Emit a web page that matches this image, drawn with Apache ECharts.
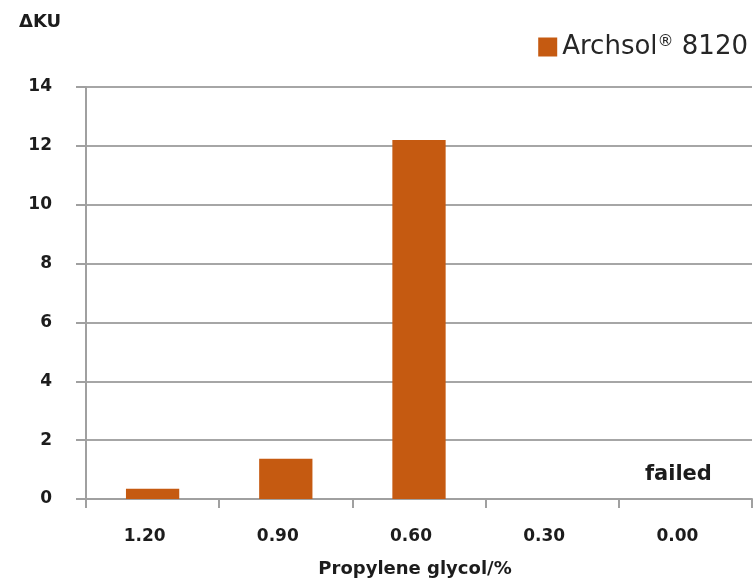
<!DOCTYPE html>
<html><head><meta charset="utf-8">
<script src="https://cdn.jsdelivr.net/npm/echarts@6/dist/echarts.min.js"></script>
<style>html,body{margin:0;padding:0;background:#fff}#c{width:755px;height:584px}</style>
</head><body><div id="c"></div>
<script>
const categories = ['1.20', '0.90', '0.60', '0.30', '0.00'];
const values = [0.35, 1.37, 12.2, null, 0];
const failedIndex = 4;
const yTicks = { min: 0, max: 14, interval: 2 };
const seriesName = 'Archsol® 8120';
const xTitle = 'Propylene glycol/%';
const yTitle = 'ΔKU';

const font = '"DejaVu Sans", sans-serif';
const dark = '#1c1c1c';
const chart = echarts.init(document.getElementById('c'));
chart.setOption({
  animation: false,
  textStyle: { fontFamily: font },
  title: { text: yTitle, left: 14, top: 8, textStyle: { fontSize: 18, fontWeight: 'bold', color: dark, fontFamily: font } },
  legend: { right: 2, top: 29, itemWidth: 19, itemHeight: 19, itemGap: 9, icon: 'rect',
    formatter: name => name.replace('®', '{sup|®}'),
    textStyle: { fontSize: 26, color: '#262626', fontFamily: font,
      rich: { sup: { fontSize: 16, color: '#262626', verticalAlign: 'top', padding: [0, 0, 10, 0] } } } },
  grid: { left: 86, right: 3, top: 87, bottom: 85, outerBoundsMode: 'none', containLabel: false },
  xAxis: {
    type: 'category', data: categories,
    name: xTitle, nameLocation: 'middle', nameGap: 61,
    nameTextStyle: { fontSize: 18, fontWeight: 'bold', color: dark, padding: [0, 8, 0, 0] },
    axisLine: { lineStyle: { color: '#a0a0a0', width: 2 } },
    axisTick: { show: true, length: 9, lineStyle: { color: '#a0a0a0', width: 2 } },
    axisLabel: { fontSize: 17, fontWeight: 'bold', color: dark, margin: 29, padding: [0, 16, 0, 0] }
  },
  yAxis: {
    type: 'value', min: yTicks.min, max: yTicks.max, interval: yTicks.interval,
    axisLine: { show: true, lineStyle: { color: '#a0a0a0', width: 2 } },
    axisTick: { show: true, length: 10, lineStyle: { color: '#a0a0a0', width: 2 } },
    splitLine: { lineStyle: { color: '#a6a6a6', width: 2 } },
    axisLabel: { fontSize: 17, fontWeight: 'bold', color: dark, margin: 34 }
  },
  series: [{
    name: seriesName, type: 'bar', barWidth: '40%',
    itemStyle: { color: '#c55a11' },
    data: values.map((v, i) => i === failedIndex
      ? { value: v, label: { show: true, formatter: 'failed', position: 'insideBottom', distance: 14, offset: [-7, 0],
          fontSize: 21, fontWeight: 'bold', color: dark } }
      : v)
  }]
});
</script></body></html>
